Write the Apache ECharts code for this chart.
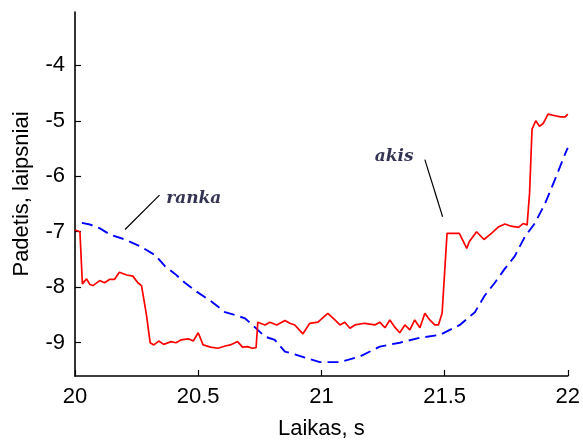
<!DOCTYPE html>
<html><head><meta charset="utf-8">
<script src="https://cdn.jsdelivr.net/npm/echarts@6/dist/echarts.min.js"></script>
<style>html,body{margin:0;padding:0;background:#fff}#c{width:583px;height:445px}</style>
</head><body><div id="c"></div>
<script>
// eye (akis) – red solid
const akisX = [20.0,20.02,20.03,20.047,20.06,20.073,20.10,20.12,20.14,20.16,20.18,20.21,20.235,20.255,20.27,20.29,20.305,20.32,20.34,20.36,20.39,20.41,20.43,20.46,20.48,20.50,20.52,20.55,20.58,20.61,20.63,20.66,20.68,20.70,20.72,20.735,20.742,20.771,20.791,20.819,20.852,20.872,20.892,20.925,20.953,20.986,21.026,21.055,21.075,21.095,21.116,21.136,21.176,21.217,21.237,21.258,21.278,21.298,21.318,21.339,21.359,21.379,21.40,21.42,21.44,21.46,21.475,21.49,21.51,21.53,21.56,21.59,21.60,21.63,21.66,21.69,21.72,21.745,21.77,21.80,21.82,21.835,21.845,21.855,21.87,21.885,21.90,21.92,21.94,21.97,21.99,22.0];
const akisY = [-6.97,-7.0,-7.94,-7.85,-7.95,-7.97,-7.88,-7.92,-7.86,-7.86,-7.73,-7.78,-7.80,-7.92,-7.97,-8.5,-9.0,-9.04,-8.97,-9.03,-8.98,-9.0,-8.95,-8.93,-8.97,-8.82,-9.04,-9.08,-9.1,-9.06,-9.04,-8.98,-9.08,-9.07,-9.1,-9.09,-8.63,-8.68,-8.63,-8.68,-8.6,-8.65,-8.68,-8.84,-8.65,-8.63,-8.47,-8.59,-8.68,-8.63,-8.74,-8.68,-8.65,-8.68,-8.63,-8.73,-8.59,-8.72,-8.82,-8.68,-8.77,-8.59,-8.73,-8.47,-8.59,-8.68,-8.68,-8.47,-7.03,-7.03,-7.03,-7.30,-7.18,-7.0,-7.14,-7.03,-6.91,-6.86,-6.9,-6.92,-6.85,-6.88,-6.3,-5.15,-5.0,-5.1,-5.05,-4.88,-4.9,-4.93,-4.93,-4.88];
// hand (ranka) – blue dashed
const rankaX = [20.028,20.061,20.101,20.142,20.203,20.264,20.325,20.365,20.406,20.446,20.487,20.548,20.609,20.649,20.690,20.730,20.771,20.811,20.852,20.892,20.933,20.994,21.075,21.156,21.237,21.318,21.40,21.48,21.562,21.623,21.663,21.704,21.744,21.785,21.826,21.866,21.907,21.947,21.988,22.0];
const rankaY = [-6.84,-6.87,-6.94,-7.05,-7.14,-7.26,-7.42,-7.62,-7.76,-7.92,-8.06,-8.24,-8.45,-8.50,-8.56,-8.72,-8.89,-8.95,-9.16,-9.21,-9.27,-9.35,-9.35,-9.25,-9.07,-9.0,-8.91,-8.86,-8.68,-8.45,-8.15,-7.92,-7.67,-7.44,-7.09,-6.85,-6.50,-6.07,-5.61,-5.49];
const xTicks = [20, 20.5, 21, 21.5, 22];
const yTicks = [-9, -8, -7, -6, -5, -4];
const xName = 'Laikas, s';
const yName = 'Padetis, laipsniai';
// annotations: label text, label position, leader line start/end (data units)
const annoText = ['ranka', 'akis'];
const annoLabelPos = [[20.482, -6.40], [21.295, -5.65]];
const annoLineFrom = [[20.343, -6.34], [21.42, -5.70]];
const annoLineTo = [[20.203, -6.96], [21.492, -6.73]];

const zip = (a,b)=>a.map((v,i)=>[v,b[i]]);
const chart = echarts.init(document.getElementById('c'));
const axisFont = {fontFamily:'Liberation Sans', fontSize:22, color:'#000'};
const series = [
  {type:'line', data:zip(akisX,akisY), showSymbol:false, lineStyle:{color:'#ff0000', width:1.7}, z:3, animation:false},
  {type:'line', data:zip(rankaX,rankaY), showSymbol:false, lineStyle:{color:'#0000ff', width:1.9, type:[11,6]}, z:2, animation:false}
];
annoText.forEach((t,i)=>{
  series.push({type:'line', data:[annoLineFrom[i], annoLineTo[i]], showSymbol:false, lineStyle:{color:'#000', width:1.2}, animation:false, silent:true});
  series.push({type:'scatter', data:[annoLabelPos[i]], symbolSize:0, animation:false, silent:true,
    label:{show:true, position:'inside', formatter:t, fontFamily:'DejaVu Serif', fontStyle:'italic', fontWeight:'bold', fontSize:17, color:'#000028'}});
});
chart.setOption({
  animation:false,
  grid:{left:75, right:12, top:12, bottom:63, containLabel:false},
  xAxis:{type:'value', min:20, max:22, interval:0.5,
    name:xName, nameLocation:'middle', nameGap:42, nameTextStyle:axisFont,
    axisLine:{lineStyle:{color:'#000', width:1.6}},
    axisTick:{inside:true, length:6, lineStyle:{color:'#000', width:1.2}, customValues:xTicks},
    axisLabel:{customValues:xTicks, formatter:v=>String(v), margin:10, ...axisFont},
    splitLine:{show:false}},
  yAxis:{type:'value', min:-9.6, max:-3.04,
    name:yName, nameLocation:'middle', nameGap:42, nameRotate:90, nameTextStyle:axisFont,
    axisLine:{show:true, lineStyle:{color:'#000', width:1.6}},
    axisTick:{show:true, inside:true, length:6, lineStyle:{color:'#000', width:1.2}, customValues:yTicks},
    axisLabel:{customValues:yTicks, formatter:v=>String(v), margin:10, ...axisFont},
    splitLine:{show:false}},
  series
});
</script></body></html>
